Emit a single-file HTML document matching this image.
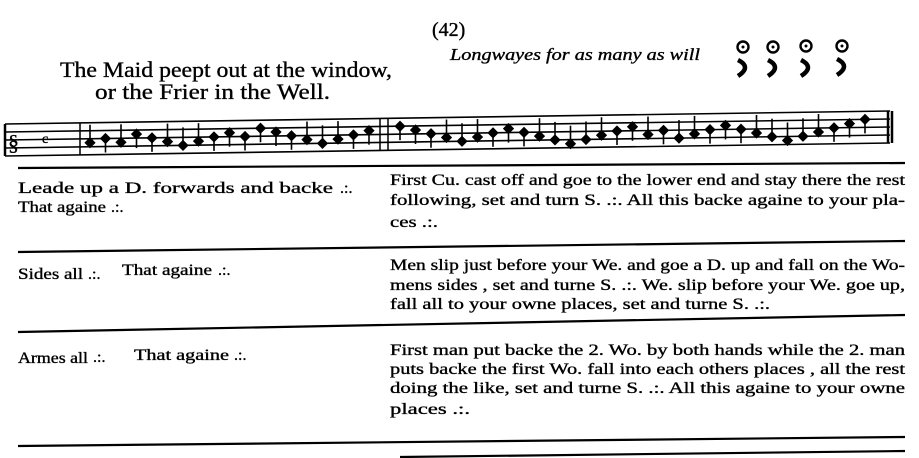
<!DOCTYPE html>
<html><head><meta charset="utf-8"><style>
html,body{margin:0;padding:0;background:#fff;}
svg{display:block}
text{font-family:"Liberation Serif",serif;fill:#000;stroke:#000;stroke-width:0.35;}
</style></head><body>
<svg id="s" width="919" height="458" viewBox="0 0 919 458" xmlns="http://www.w3.org/2000/svg">
<text x="432" y="36" font-size="20">(42)</text>
<text x="60" y="77" font-size="22" textLength="332" lengthAdjust="spacingAndGlyphs">The Maid peept out at the window,</text>
<text x="95" y="99" font-size="22" textLength="235" lengthAdjust="spacingAndGlyphs">or the Frier in the Well.</text>
<text x="450" y="60" font-size="17" font-style="italic" textLength="250" lengthAdjust="spacingAndGlyphs">Longwayes for as many as will</text>
<g fill="none" stroke="#000" stroke-width="2.4">
<circle cx="743" cy="47" r="5.5"/><circle cx="773" cy="47" r="5.5"/><circle cx="806" cy="46" r="5.5"/><circle cx="842" cy="46" r="5.5"/>
</g>
<g fill="#000"><circle cx="743" cy="47" r="1.5"/><circle cx="773" cy="47" r="1.5"/><circle cx="806" cy="46" r="1.5"/><circle cx="842" cy="46" r="1.5"/></g>
<g fill="none" stroke="#000" stroke-width="4.5">
<path d="M738 60 Q752 67 738 76"/><path d="M768 60 Q782 67 768 76"/><path d="M801 60 Q815 67 801 76"/><path d="M837 59 Q851 66 837 75"/>
</g>
<g id="staff" stroke="#000" stroke-width="1.6"></g>
<g id="notes" fill="#000" stroke="#000" stroke-width="1.6"></g>
<g stroke="#000" stroke-width="2.2">
<line x1="18" y1="168" x2="905" y2="163"/>
<line x1="18" y1="252" x2="905" y2="241"/>
<line x1="18" y1="332" x2="905" y2="315"/>
<line x1="18" y1="446" x2="905" y2="437"/>
<line x1="400" y1="457" x2="905" y2="451"/>
</g>
<g font-size="16">
<text x="18" y="193" textLength="315" lengthAdjust="spacingAndGlyphs">Leade up a D. forwards and backe</text>
<text x="340" y="193">.:.</text>
<text x="18" y="212" textLength="88" lengthAdjust="spacingAndGlyphs">That againe</text>
<text x="111" y="212">.:.</text>
<text x="18" y="279" textLength="65" lengthAdjust="spacingAndGlyphs">Sides all</text>
<text x="88" y="279">.:.</text>
<text x="122" y="275" textLength="90" lengthAdjust="spacingAndGlyphs">That againe</text>
<text x="218" y="275">.:.</text>
<text x="18" y="363" textLength="70" lengthAdjust="spacingAndGlyphs">Armes all</text>
<text x="93" y="362">.:.</text>
<text x="134" y="360" textLength="95" lengthAdjust="spacingAndGlyphs">That againe</text>
<text x="234" y="360">.:.</text>

<text x="390" y="185" textLength="515" lengthAdjust="spacingAndGlyphs">First Cu. cast off and goe to the lower end and stay there the rest</text>
<text x="390" y="205" textLength="515" lengthAdjust="spacingAndGlyphs">following, set and turn S. .:. All this backe againe to your pla-</text>
<text x="390" y="227" textLength="48" lengthAdjust="spacingAndGlyphs">ces .:.</text>
<text x="390" y="270" textLength="515" lengthAdjust="spacingAndGlyphs">Men slip just before your We. and goe a D. up and fall on the Wo-</text>
<text x="390" y="290" textLength="515" lengthAdjust="spacingAndGlyphs">mens sides , set and turne S. .:. We. slip before your We. goe up,</text>
<text x="390" y="309" textLength="380" lengthAdjust="spacingAndGlyphs">fall all to your owne places, set and turne S. .:.</text>
<text x="390" y="355" textLength="515" lengthAdjust="spacingAndGlyphs">First man put backe the 2. Wo. by both hands while the 2. man</text>
<text x="390" y="374" textLength="515" lengthAdjust="spacingAndGlyphs">puts backe the first Wo. fall into each others places , all the rest</text>
<text x="390" y="393" textLength="515" lengthAdjust="spacingAndGlyphs">doing the like, set and turne S. .:. All this againe to your owne</text>
<text x="390" y="414" textLength="80" lengthAdjust="spacingAndGlyphs">places .:.</text>
</g>
<script>
(function(){
var NS="http://www.w3.org/2000/svg";
function top(x){return 124-(x-5)*13/885;}
var st=document.getElementById("staff");
for(var i=0;i<5;i++){var l=document.createElementNS(NS,"line");
l.setAttribute("x1",5);l.setAttribute("y1",top(5)+i*8);l.setAttribute("x2",890);l.setAttribute("y2",top(890)+i*8);st.appendChild(l);}
var bars=[5,80,380,388,888,892];
bars.forEach(function(x){var l=document.createElementNS(NS,"line");l.setAttribute("x1",x);l.setAttribute("x2",x);l.setAttribute("y1",top(x));l.setAttribute("y2",top(x)+32);l.setAttribute("stroke-width",x>880||x<10?2.5:1.5);st.appendChild(l);});
var n=document.getElementById("notes");
var pos=[3,4,3,5,4,3,2,3,4,5,4,6,5,4,3,2,3,4,5,6,5,4,3,2,3,4,5,4,3,2,1,2,3,4,5,3,4,2,3,4,5,4,3,2,1,2,3,4,5,6,5,4,3,4,5,4,3,2,3,4,3,2,3];
var xs=[];for(var x=90;x<370;x+=15.5)xs.push(x);for(var x=400;x<880;x+=15.5)xs.push(x);
xs.forEach(function(x,k){var p=pos[k%pos.length];var y=top(x)+32-p*4;
var d=document.createElementNS(NS,"path");d.setAttribute("d","M"+x+" "+(y-4.5)+"L"+(x+4.5)+" "+y+"L"+x+" "+(y+4.5)+"L"+(x-4.5)+" "+y+"Z");n.appendChild(d);
var s=document.createElementNS(NS,"line");s.setAttribute("x1",x);s.setAttribute("x2",x);s.setAttribute("y1",y-(p<4?18:0));s.setAttribute("y2",y+(p<4?0:14));n.appendChild(s);});
var c=document.createElementNS(NS,"text");c.setAttribute("x",8);c.setAttribute("y",150);c.setAttribute("font-size",22);c.textContent="\u00a7";n.appendChild(c);
var e=document.createElementNS(NS,"text");e.setAttribute("x",42);e.setAttribute("y",143);e.setAttribute("font-size",14);e.textContent="c";n.appendChild(e);
})();
</script>
</svg>
</body></html>
